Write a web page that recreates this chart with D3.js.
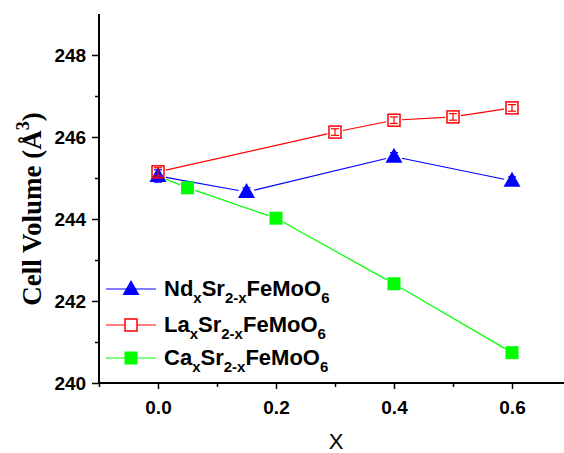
<!DOCTYPE html>
<html>
<head>
<meta charset="utf-8">
<script src="https://cdn.jsdelivr.net/npm/d3@7"></script>
<style>
  body { margin: 0; background: #fff; }
  svg { display: block; }
</style>
</head>
<body>
<svg id="chart" width="564" height="453"></svg>
<script>
// values
var ndX = [0.0, 0.15, 0.4, 0.6];
var ndY = [245.05, 244.66, 245.52, 244.93];
var ndErr = [0.15, 0.1, 0.1, 0.1];

var laX = [0.0, 0.3, 0.4, 0.5, 0.6];
var laY = [245.15, 246.12, 246.41, 246.49, 246.71];
var laErr = [0.1, 0.08, 0.08, 0.08, 0.08];

var caX = [0.0, 0.05, 0.2, 0.4, 0.6];
var caY = [245.05, 244.76, 244.02, 242.42, 240.74];

var xTicks = [0.0, 0.2, 0.4, 0.6];
var xMinor = [-0.1, 0.1, 0.3, 0.5];
var yTicks = [240, 242, 244, 246, 248];
var yMinor = [241, 243, 245, 247];

var series = [
  {name: 'Nd', xs: ndX, ys: ndY, err: ndErr, color: '#0000ff', shape: 'tri', fromIdx: 0},
  {name: 'La', xs: laX, ys: laY, err: laErr, color: '#ff0000', shape: 'open', fromIdx: 0},
  {name: 'Ca', xs: caX, ys: caY, err: null, color: '#00ff00', shape: 'fill', fromIdx: 1}
];

var svg = d3.select('#chart'),
    MARGINS = {left: 99, top: 14, bottom: 383},
    x = d3.scaleLinear().domain([-0.1, 0.7]).range([MARGINS.left, MARGINS.left + 0.8 * 590]),
    y = d3.scaleLinear().domain([240, 249]).range([MARGINS.bottom, MARGINS.top]);

// axes
var xAxis = d3.axisBottom(x).tickValues(xTicks).tickSize(6).tickFormat(d3.format('.1f'));
var yAxis = d3.axisLeft(y).tickValues(yTicks).tickSize(7).tickFormat(d3.format('d'));

var gx = svg.append('g').attr('transform', 'translate(0,' + MARGINS.bottom + ')').call(xAxis);
var gy = svg.append('g').attr('transform', 'translate(' + MARGINS.left + ',0)').call(yAxis);

svg.append('g').attr('class', 'minor').attr('transform', 'translate(0,' + MARGINS.bottom + ')')
  .call(d3.axisBottom(x).tickValues(xMinor).tickSize(4).tickFormat(''));
svg.append('g').attr('class', 'minor').attr('transform', 'translate(' + MARGINS.left + ',0)')
  .call(d3.axisLeft(y).tickValues(yMinor).tickSize(4).tickFormat(''));
svg.selectAll('.minor .domain').remove();

gx.select('.domain').attr('d', 'M' + MARGINS.left + ',0H564');
gy.select('.domain').attr('d', 'M0,' + MARGINS.top + 'V' + MARGINS.bottom);
svg.selectAll('.domain').attr('stroke', '#000').attr('stroke-width', 2);
svg.selectAll('.tick line').attr('stroke', '#000').attr('stroke-width', 1.5);

gx.selectAll('.tick text').attr('font-family', 'Arial, Liberation Sans, sans-serif')
  .attr('font-weight', 'bold').attr('font-size', 19).attr('fill', '#000').attr('dy', '1.15em');
gy.selectAll('.tick text').attr('font-family', 'Arial, Liberation Sans, sans-serif')
  .attr('font-weight', 'bold').attr('font-size', 19).attr('fill', '#000').attr('dx', '-0.15em').attr('dy', '0.36em');

// axis labels
svg.append('text')
  .attr('x', 336).attr('y', 449)
  .attr('text-anchor', 'middle')
  .attr('font-family', 'Arial, Liberation Sans, sans-serif')
  .attr('font-size', 22)
  .text('X');

var yl = svg.append('text')
  .attr('transform', 'translate(41,209) rotate(-90)')
  .attr('text-anchor', 'middle')
  .attr('font-family', 'Times New Roman, Liberation Serif, serif')
  .attr('font-weight', 'bold')
  .attr('font-size', 27);
yl.append('tspan').text('Cell Volume (Å');
yl.append('tspan').attr('dy', -12).attr('font-size', 18).text('3');
yl.append('tspan').attr('dy', 12).text(')');

// lines with gaps around markers
var gap = 8;
function drawLine(s) {
  for (let i = 0; i < s.xs.length - 1; i++) {
    var x1 = x(s.xs[i]), y1 = y(s.ys[i]), x2 = x(s.xs[i + 1]), y2 = y(s.ys[i + 1]);
    var len = Math.sqrt((x2 - x1) * (x2 - x1) + (y2 - y1) * (y2 - y1));
    var ux = (x2 - x1) / len, uy = (y2 - y1) / len;
    svg.append('line')
      .attr('x1', x1 + ux * gap).attr('y1', y1 + uy * gap)
      .attr('x2', x2 - ux * gap).attr('y2', y2 - uy * gap)
      .attr('stroke', s.color).attr('stroke-width', 1.2);
  }
}

function marker(g, shape, color, cx, cy) {
  if (shape === 'tri') {
    g.append('path')
      .attr('d', 'M' + cx + ',' + (cy - 9) + 'L' + (cx + 8.5) + ',' + (cy + 6) + 'L' + (cx - 8.5) + ',' + (cy + 6) + 'Z')
      .attr('fill', color);
  } else if (shape === 'open') {
    g.append('rect').attr('x', cx - 6).attr('y', cy - 6).attr('width', 12).attr('height', 12)
      .attr('fill', 'none').attr('stroke', color).attr('stroke-width', 1.5);
  } else {
    g.append('rect').attr('x', cx - 6.5).attr('y', cy - 6.5).attr('width', 13).attr('height', 13)
      .attr('fill', color);
  }
}

function drawPoints(s) {
  var g = svg.append('g');
  for (let i = s.fromIdx; i < s.xs.length; i++) {
    var cx = x(s.xs[i]), cy = y(s.ys[i]);
    marker(g, s.shape, s.color, cx, cy);
    if (s.err) {
      var e = s.err[i];
      g.append('line').attr('x1', cx).attr('x2', cx)
        .attr('y1', y(s.ys[i] + e)).attr('y2', y(s.ys[i] - e))
        .attr('stroke', s.color).attr('stroke-width', 1.2);
      [s.ys[i] + e, s.ys[i] - e].forEach(function(v){
        g.append('line').attr('x1', cx - 4).attr('x2', cx + 4)
          .attr('y1', y(v)).attr('y2', y(v))
          .attr('stroke', s.color).attr('stroke-width', 1.2);
      });
    }
  }
}

series.forEach(drawLine);
drawPoints(series[2]);
drawPoints(series[0]);
drawPoints(series[1]);

// legend
var legendY = [289, 325, 358];
var subs = [['Nd', 'Sr', 'FeMoO'], ['La', 'Sr', 'FeMoO'], ['Ca', 'Sr', 'FeMoO']];
series.forEach(function(s, i){
  var ly = legendY[i];
  svg.append('line').attr('x1', 106).attr('x2', 156).attr('y1', ly).attr('y2', ly)
    .attr('stroke', s.color).attr('stroke-width', 1.2);
  var g = svg.append('g');
  if (s.shape === 'open') {
    g.append('rect').attr('x', 125).attr('y', ly - 6).attr('width', 12).attr('height', 12).attr('fill', '#fff');
  }
  marker(g, s.shape, s.color, 131, ly);
  var t = svg.append('text').attr('x', 164).attr('y', ly + 7)
    .attr('font-family', 'Arial, Liberation Sans, sans-serif')
    .attr('font-weight', 'bold').attr('font-size', 22).attr('fill', '#000');
  t.append('tspan').text(subs[i][0]);
  t.append('tspan').attr('dy', 7).attr('font-size', 15).text('x');
  t.append('tspan').attr('dy', -7).text(subs[i][1]);
  t.append('tspan').attr('dy', 7).attr('font-size', 15).text('2-x');
  t.append('tspan').attr('dy', -7).text(subs[i][2]);
  t.append('tspan').attr('dy', 7).attr('font-size', 15).text('6');
});
</script>
</body>
</html>
